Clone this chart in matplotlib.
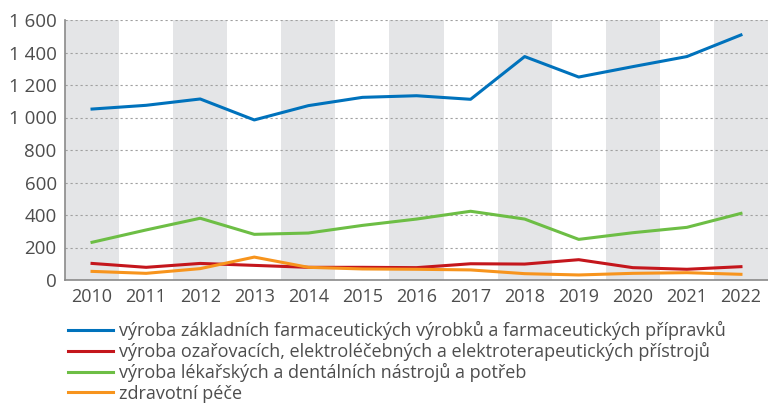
import matplotlib
matplotlib.use("Agg")
from matplotlib import pyplot as plt
from matplotlib.ticker import FuncFormatter

# Data
years = [2010, 2011, 2012, 2013, 2014, 2015, 2016, 2017, 2018, 2019, 2020, 2021, 2022]
farmacie = [1052, 1075, 1114, 985, 1073, 1124, 1134, 1112, 1375, 1249, 1313, 1375, 1508]
pristroje = [102, 78, 102, 90, 78, 78, 76, 100, 98, 125, 76, 66, 82]
nastroje = [232, 308, 380, 281, 289, 336, 375, 423, 375, 250, 291, 324, 410]
pece = [53, 41, 70, 141, 78, 68, 66, 62, 39, 31, 41, 45, 35]

labels = ["výroba základních farmaceutických výrobků a farmaceutických přípravků",
          "výroba ozařovacích, elektroléčebných a elektroterapeutických přístrojů",
          "výroba lékařských a dentálních nástrojů a potřeb",
          "zdravotní péče"]
colors = ["#0072bc", "#c4161c", "#6dbe45", "#f7941d"]

plt.rcParams["font.family"] = ["Open Sans", "DejaVu Sans"]
text_col = "#4d4d4d"

fig = plt.figure(figsize=(7.68, 4.03), dpi=100)
ax = fig.add_axes([65/768, 1 - 280/403, 1 - 65/768, 260/403])

x = list(range(len(years)))
# grey bands behind every other year
for i in x[::2]:
    ax.axvspan(i - 0.5, i + 0.5, color="#e4e5e7", lw=0, zorder=0)

for series, label, color in zip([farmacie, pristroje, nastroje, pece], labels, colors):
    ax.plot(x, series, color=color, lw=2.2, label=label, zorder=3)

ax.set_xlim(-0.5, 12.5)
ax.set_ylim(0, 1600)
ax.set_yticks(range(0, 1601, 200))
ax.yaxis.set_major_formatter(FuncFormatter(lambda v, p: f"{int(v):,}".replace(",", " ")))
ax.set_xticks(x)
ax.set_xticklabels([str(y) for y in years])
ax.grid(axis="y", color="#a0a0a0", ls=(0, (2, 2.5)), lw=0.8, zorder=1)
ax.set_axisbelow(True)
for s in ["top", "right"]:
    ax.spines[s].set_visible(False)
for s in ["left", "bottom"]:
    ax.spines[s].set_color("#8a8a8a")
    ax.spines[s].set_linewidth(1.2)
ax.tick_params(length=0, labelsize=13, colors=text_col, pad=6)
ax.tick_params(axis="y", labelsize=13.5)

fig.legend(loc="upper left", bbox_to_anchor=(59/768, 1 - 312/403), frameon=False,
           fontsize=13, handlelength=2.5, labelspacing=0.12, borderpad=0,
           handletextpad=0.35, labelcolor=text_col)

fig.savefig("out.png", dpi=100)
